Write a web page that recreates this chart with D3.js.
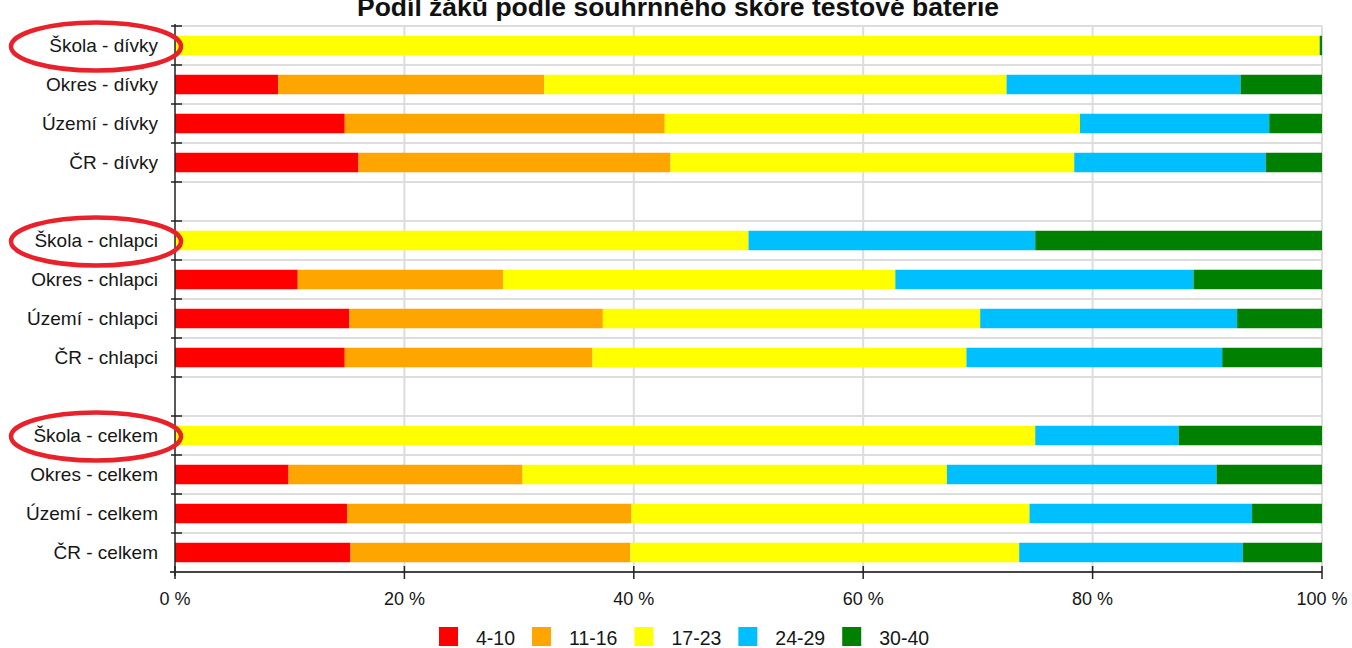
<!DOCTYPE html>
<html><head><meta charset="utf-8">
<script src="https://cdn.jsdelivr.net/npm/d3@7"></script>
<style>
body{margin:0;background:#fff;}
svg{display:block;font-family:"Liberation Sans",Arial,sans-serif;}
</style>
</head><body>
<svg id="chart" width="1352" height="648"></svg>
<script>
const title = "Podíl žáků podle souhrnného skóre testové baterie";
const categories = [
  "Škola - dívky","Okres - dívky","Území - dívky","ČR - dívky",
  "Škola - chlapci","Okres - chlapci","Území - chlapci","ČR - chlapci",
  "Škola - celkem","Okres - celkem","Území - celkem","ČR - celkem"
];
const gapAfter = [3, 7];
const seriesNames = ["4-10","11-16","17-23","24-29","30-40"];
const seriesColors = ["#ff0000","#ffa500","#ffff00","#00bfff","#008000"];
const s4_10  = [0, 9.0, 14.8, 16.0, 0, 10.7, 15.2, 14.8, 0, 9.9, 15.0, 15.3];
const s11_16 = [0, 23.2, 27.9, 27.2, 0, 17.9, 22.1, 21.6, 0, 20.4, 24.8, 24.4];
const s17_23 = [99.8, 40.3, 36.2, 35.2, 50, 34.2, 32.9, 32.6, 75, 37.0, 34.7, 33.9];
const s24_29 = [0, 20.4, 16.5, 16.7, 25, 26.0, 22.4, 22.3, 12.5, 23.5, 19.4, 19.5];
const s30_40 = [0.2, 7.1, 4.6, 4.9, 25, 11.2, 7.4, 8.7, 12.5, 9.2, 6.1, 6.9];
const xTicks = [0, 20, 40, 60, 80, 100];
const xTickLabels = ["0 %","20 %","40 %","60 %","80 %","100 %"];
const highlighted = ["Škola - dívky","Škola - chlapci","Škola - celkem"];

const seriesValues = [s4_10, s11_16, s17_23, s24_29, s30_40];
const rows = categories.map((c, i) => {
  const o = {cat: c};
  seriesNames.forEach((s, j) => o[s] = seriesValues[j][i]);
  return o;
});
const slots = [];
categories.forEach((c, i) => { slots.push(c); if (gapAfter.includes(i)) slots.push("__gap" + i); });

const svg = d3.select("#chart");
const L = 175, R = 1322, T = 26, B = 572;
const x = d3.scaleLinear().domain([0, 100]).range([L, R]);
const y = d3.scaleBand().domain(slots).range([T, B]).paddingInner(0.5).paddingOuter(0.25);
const step = y.step();
const boundaries = d3.range(slots.length + 1).map(k => T + k * step);

// title
svg.append("text").attr("x", 678).attr("y", 16).attr("text-anchor", "middle")
  .attr("font-size", 26.5).attr("font-weight", "bold").attr("fill", "#111").text(title);

// grid
const grid = svg.append("g");
grid.selectAll("line.h").data(boundaries).join("line")
  .attr("x1", L).attr("x2", R).attr("y1", d => d).attr("y2", d => d)
  .attr("stroke", "#dddddd").attr("stroke-width", 2);
grid.selectAll("line.v").data(xTicks.slice(1)).join("line")
  .attr("x1", d => x(d)).attr("x2", d => x(d)).attr("y1", T).attr("y2", B)
  .attr("stroke", "#dddddd").attr("stroke-width", 2);

// bars
const stacked = d3.stack().keys(seriesNames)(rows);
svg.append("g").selectAll("g").data(stacked).join("g")
  .attr("fill", (d, i) => seriesColors[i])
  .selectAll("rect").data(d => d).join("rect")
  .attr("x", d => x(d[0])).attr("width", d => Math.max(0, x(d[1]) - x(d[0])))
  .attr("y", d => y(d.data.cat)).attr("height", y.bandwidth());

// left axis
const ax = svg.append("g");
ax.append("line").attr("x1", L).attr("x2", L).attr("y1", T - 2).attr("y2", B + 4)
  .attr("stroke", "#222").attr("stroke-width", 1.5);
ax.selectAll("line.t").data(boundaries).join("line")
  .attr("x1", L - 4).attr("x2", L + 7).attr("y1", d => d).attr("y2", d => d)
  .attr("stroke", "#222").attr("stroke-width", 1.5);
ax.selectAll("text").data(categories).join("text")
  .attr("x", 158).attr("y", d => y(d) + y.bandwidth() / 2).attr("dy", "0.36em")
  .attr("text-anchor", "end").attr("font-size", 19).attr("fill", "#161616").text(d => d);

// bottom axis
const bx = svg.append("g");
bx.append("line").attr("x1", L - 5).attr("x2", R).attr("y1", B).attr("y2", B)
  .attr("stroke", "#444").attr("stroke-width", 2);
bx.selectAll("line.t").data(xTicks).join("line")
  .attr("x1", d => x(d)).attr("x2", d => x(d)).attr("y1", B - 6).attr("y2", B + 7)
  .attr("stroke", "#222").attr("stroke-width", 1.5);
bx.selectAll("text").data(xTicks).join("text")
  .attr("x", d => x(d)).attr("y", 605).attr("text-anchor", "middle")
  .attr("font-size", 18).attr("fill", "#161616").text((d, i) => xTickLabels[i]);

// legend
const lg = svg.append("g").attr("transform", "translate(439,0)");
let lx = 0;
seriesNames.forEach((s, i) => {
  const g = lg.append("g");
  g.append("rect").attr("x", lx).attr("y", 627).attr("width", 19).attr("height", 19).attr("fill", seriesColors[i]);
  const t = g.append("text").attr("x", lx + 37).attr("y", 645).attr("font-size", 19.5).attr("fill", "#161616").text(s);
  lx += 37 + t.node().getComputedTextLength() + 17;
});

// annotation ellipses around the school rows
svg.append("g").selectAll("ellipse").data(highlighted).join("ellipse")
  .attr("cx", 96).attr("cy", d => y(d) + y.bandwidth() / 2 + 1)
  .attr("rx", 85).attr("ry", 24)
  .attr("fill", "none").attr("stroke", "#e8212b").attr("stroke-width", 4.5);
</script>
</body></html>
